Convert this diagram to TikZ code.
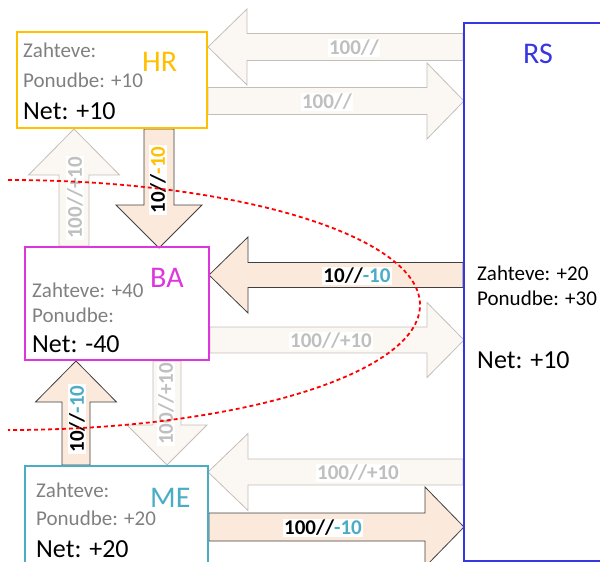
\documentclass[tikz,border=0pt]{standalone}
\usepackage{fontspec}
\setmainfont{Carlito}
\usetikzlibrary{backgrounds}

\definecolor{hrc}{HTML}{FFC000}
\definecolor{bac}{HTML}{DD36DD}
\definecolor{mec}{HTML}{4BACC6}
\definecolor{rsc}{HTML}{3636E2}
\definecolor{boxtext}{HTML}{808080}
\definecolor{lighttext}{HTML}{BFBFBF}
\definecolor{lightfill}{HTML}{FBF7F2}
\definecolor{lightline}{HTML}{C4BEB8}
\definecolor{darkfill}{HTML}{FBE9DB}
\definecolor{darkline}{HTML}{404040}

% block arrow: options, base point, direction, length, shaft half width, head half width, head length
\newcommand\blockarrow[7]{%
  \draw[#1, shift={#2}, rotate=#3]
    (0,#5) -- ({#4-#7},#5) -- ({#4-#7},#6) -- (#4,0)
    -- ({#4-#7},-#6) -- ({#4-#7},-#5) -- (0,-#5) -- cycle;}

\tikzset{
  box/.style={draw, line width=2pt, inner sep=0pt},
  lightarrow/.style={fill=lightfill, draw=lightline, line width=0.8pt},
  darkarrow/.style={fill=darkfill, draw=darkline, line width=0.8pt},
  lbl/.style={fill=white, inner xsep=1pt, inner ysep=1.5pt,
    font=\fontsize{21}{25}\selectfont\bfseries},
  graylbl/.style={lbl, text=lighttext},
  txt/.style={anchor=base west, inner sep=0pt, text=boxtext,
    font=\fontsize{21}{25}\selectfont},
  nettxt/.style={anchor=base west, inner sep=0pt, text=black,
    font=\fontsize{26}{31}\selectfont},
  title/.style={anchor=base west, inner sep=0pt,
    font=\fontsize{30}{36}\selectfont},
  border/.style={draw=red, line width=1.8pt, dash pattern=on 4pt off 3pt}
}

\begin{document}
\begin{tikzpicture}[x=1pt,y=-1pt]
\useasboundingbox (0,0) rectangle (600,562);
\clip (0,0) rectangle (600,562);

% units
\node[box, draw=hrc, minimum width=190pt, minimum height=96pt] (HR) at (112,80) {};
\node[box, draw=bac, minimum width=184pt, minimum height=113pt] (BA) at (117,303.5) {};
\node[box, draw=mec, minimum width=183pt, minimum height=109pt] (ME) at (116.5,520.5) {};
\node[box, draw=rsc, minimum width=156pt, minimum height=538pt] (RS) at (542,292) {};

% flows between the units
\begin{scope}[on background layer]
  \blockarrow{lightarrow}{([yshift=-25pt]RS.north west)}{180}{255}{13.5}{38}{39}
  \blockarrow{lightarrow}{([yshift=-70pt]HR.north east)}{0}{256}{13.5}{38}{37}
  \blockarrow{lightarrow}{([xshift=50pt]BA.north west)}{90}{117}{15}{45.5}{46}
  \blockarrow{darkarrow}{([xshift=-49pt]HR.south east)}{-90}{119}{15}{43}{43}
  \blockarrow{darkarrow}{([yshift=-253pt]RS.north west)}{180}{254}{12.5}{38}{39}
  \blockarrow{lightarrow}{([yshift=-94pt]BA.north east)}{0}{254}{13}{37.5}{37}
  \blockarrow{darkarrow}{([xshift=52pt]ME.north west)}{90}{104}{14}{40.5}{41}
  \blockarrow{lightarrow}{([xshift=-43pt]BA.south east)}{-90}{104}{14}{40}{40}
  \blockarrow{lightarrow}{([yshift=-450pt]RS.north west)}{180}{255}{13}{38.5}{40}
  \blockarrow{darkarrow}{([yshift=-62pt]ME.north east)}{0}{255}{14}{40}{39}
\end{scope}

% flow labels
\node[graylbl] (l1) at (354,48) {100//};
\node[graylbl] (l2) at (327,102) {100//};
\node[graylbl, rotate=90] (l3) at (75,198) {100//+10};
\node[lbl, rotate=90] (l4) at (158,180) {10//\textcolor{hrc}{-10}};
\node[lbl] (l5) at (357,276) {10//\textcolor{mec}{-10}};
\node[graylbl] (l6) at (331,341) {100//+10};
\node[lbl, rotate=90] (l7) at (77,419) {10//\textcolor{mec}{-10}};
\node[graylbl, rotate=90] (l8) at (166,404) {100//+10};
\node[graylbl] (l9) at (358,473) {100//+10};
\node[lbl] (l10) at (323,528) {100//\textcolor{mec}{-10}};

% HR
\node[title, text=hrc] (hrname) at (142,71) {HR};
\node[txt] (hrz) at (23,57) {Zahteve:};
\node[txt] (hrp) at (23,87) {Ponudbe: +10};
\node[nettxt] (hrn) at (23,119) {Net: +10};

% BA
\node[title, text=bac] (baname) at (150,287) {BA};
\node[txt] (baz) at (32,297) {Zahteve: +40};
\node[txt] (bap) at (32,322) {Ponudbe:};
\node[nettxt] (ban) at (32,352) {Net: -40};

% ME
\node[title, text=mec] (mename) at (150,507) {ME};
\node[txt] (mez) at (36,497) {Zahteve:};
\node[txt] (mep) at (36,525) {Ponudbe: +20};
\node[nettxt] (men) at (36,557) {Net: +20};

% RS
\node[title, text=rsc] (rsname) at (523,63) {RS};
\node[txt, text=black] (rsz) at (477,280) {Zahteve: +20};
\node[txt, text=black] (rsp) at (477,305) {Ponudbe: +30};
\node[nettxt] (rsn) at (477,368) {Net: +10};

% boundary
\draw[border] (8,180) arc[start angle=-90, end angle=90, x radius=412, y radius=125];
\end{tikzpicture}
\end{document}
